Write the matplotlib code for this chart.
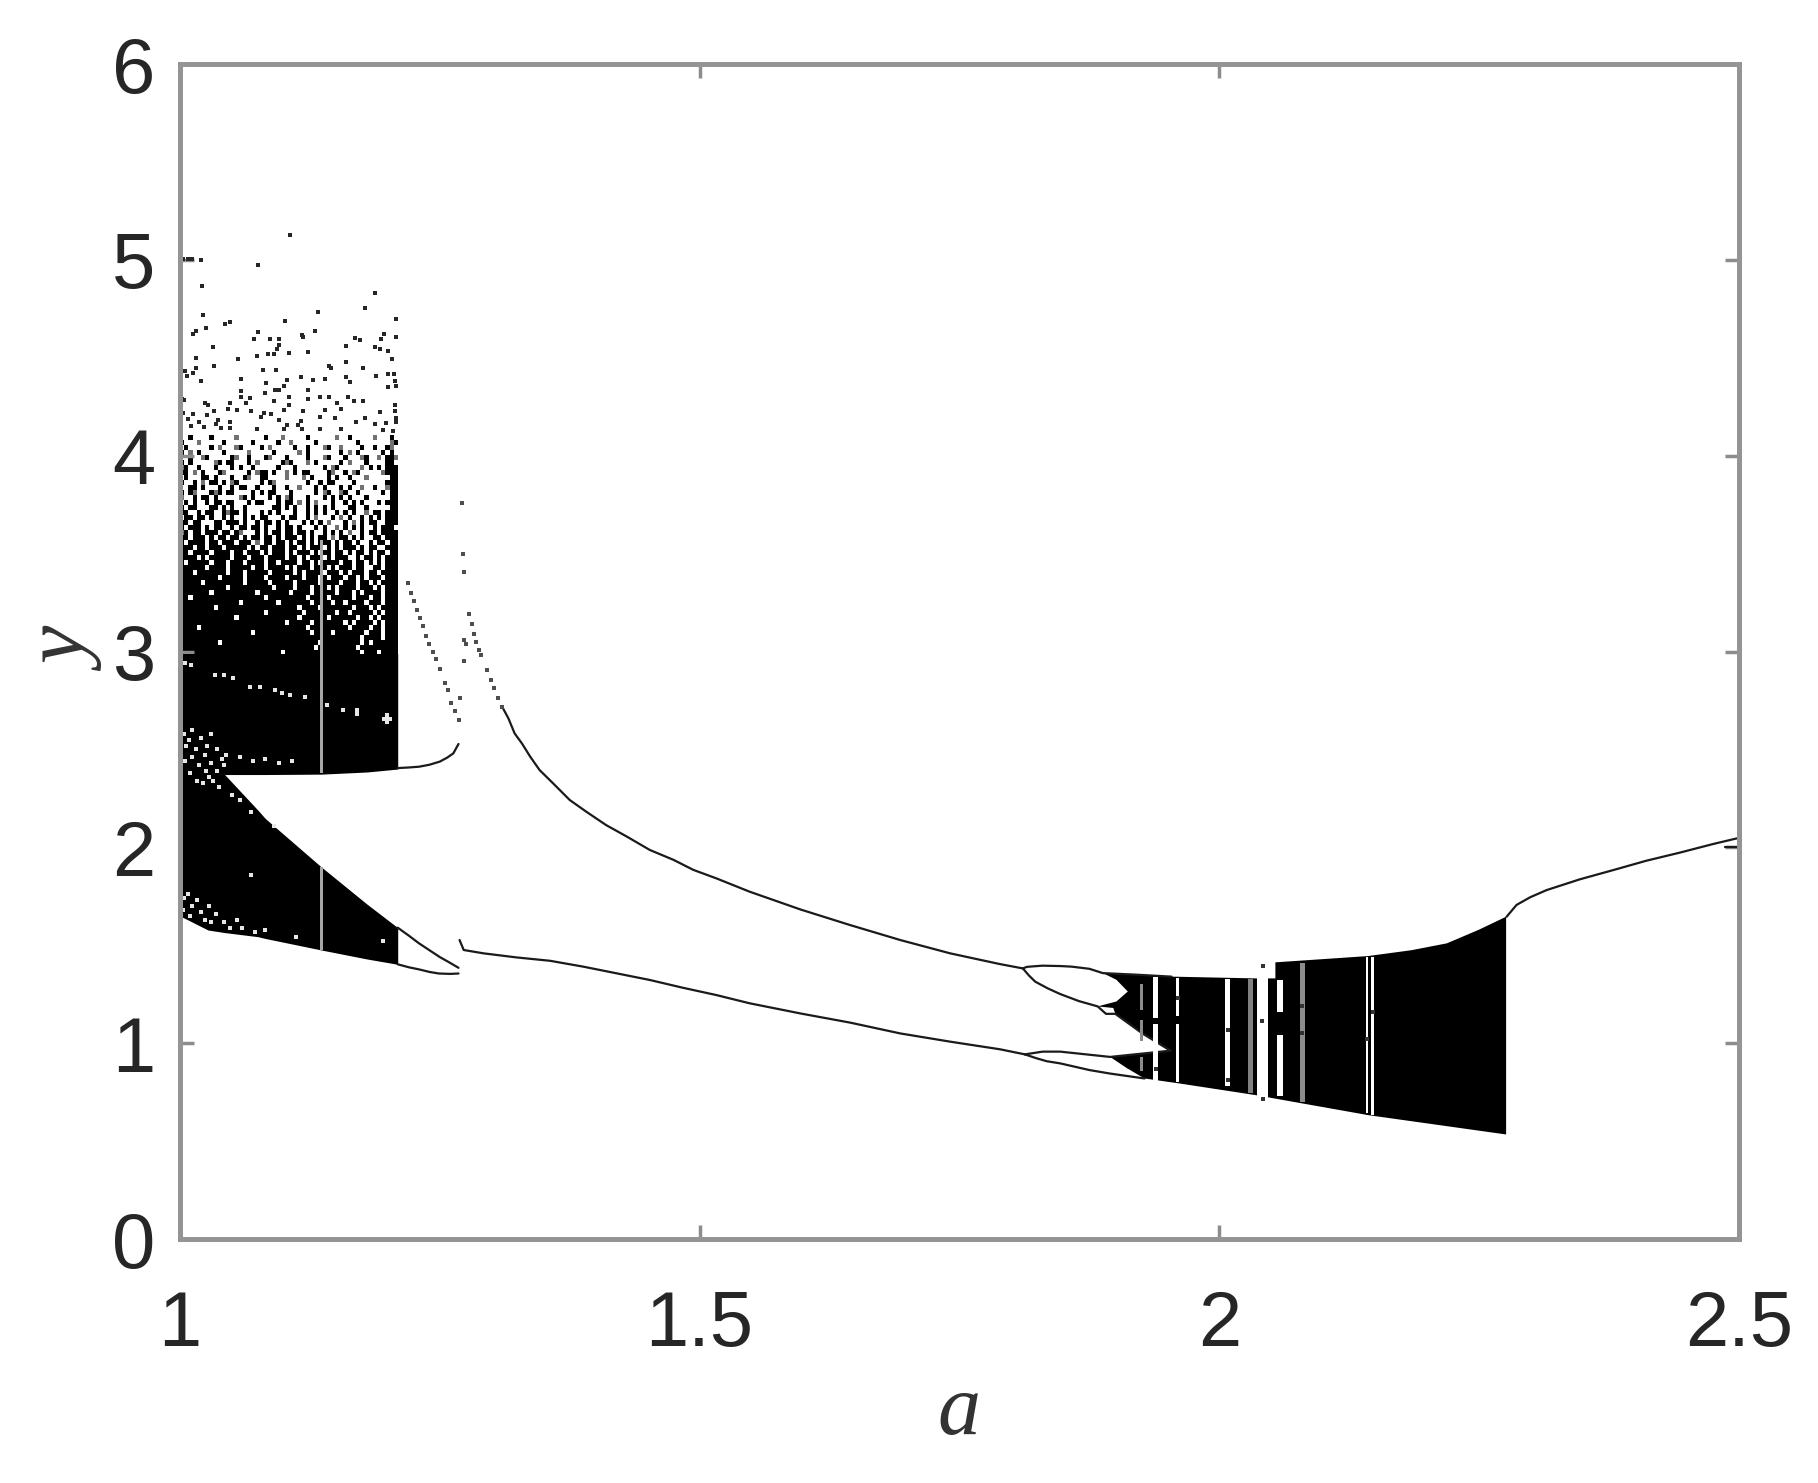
import numpy as np
import matplotlib
matplotlib.use("Agg")
import matplotlib.pyplot as plt

# left chaotic block, speck by speck: one row per 0.0255 of y from 4.10 down,
# '#' black, '+' grey, '.' white
speck_rows = [
    "..#....#.....+......#...+.....#......+..#.....+...#.",
    "#...+.....#......#.....#..+.....#.........#.......+#",
    ".#.....#.+...+#....#.+.....#..#...+#..+....#..#..#+.",
    "#.+.#.....#.....+.....#.....+.#.......#.+.#.....#.#.",
    "..#..+#.....#+..#...#+...#....#...+#...#...+#..+.##+",
    "#.#.....+#.##...#.+.....#+#...+.#.....#.+...#....##.",
    "+#..#...#...#.#..#.....#...#......#.+#.....+.#.#.###",
    "##.+.#...#+.....#.+##.#..+.#.##....#+..#.+#.....+###",
    ".#...##.#...#..#+..##....+...+.#...#.#..#...+.....##",
    "#..#.+.##.#.+#.....#.#+.......#..#.##....#.......###",
    "..##.#...#..#.##..#...#..#..+...#.#...#.#..+..#..+##",
    "#.#+...#+#.##....#.#.##...#.....#.+#..+#..#.....#.##",
    "+..#.##.#.....+#.#...#.#.+#...#...#.#.#.#...#.....##",
    ".#.#..#.##.##...#.##...#.##.+.#.+...#..#.#.#...#.###",
    "#.##...##.#.#..#......##.#.#..#.#.#.#...##..#.....##",
    "##..#.##..#+##.#...#.#.#...#..#.#.#..#.#.#..+.##.###",
    ".##.##.#..#.#..#.#.##...#.##..#.+...#.+.#..#.#.#.###",
    "##.##...##.###.#..#.##.#.#...#.#.#.+...#.+.#.##..###",
    "#.###.#.##..#.##.##.#..#.##.#...#.#..+.#.#.#..#.###.",
    "+#.##.###.##.#+...#.#.##.##.##.#..#.#.#.+..#.##.####",
    "##.###.#.##.##.#.##.##.#.###.#.#.##.+.##.#.#..##.###",
    "#.####.##.###.###.+.##.##.#.##.#.###.#.##.#..#.##.##",
    "###.##.###.#####.#.##.###.##.#.###.#.#.###.#.##..###",
    "##.####.####.##.###.#.###.#.###.#.##.##.#.##.#.##.##",
    "####.#.#####.###.###.####.##.#.###.#.###..#.##.#.###",
    "#.#####.###.###.####.##.####.##.#.####.##.##.#.#.###",
    "######.####.#####.##.####.#.###.###.#.###.##..##.###",
    "###.#######.###.#####.#####.#.####.###.#.###.##.####",
    "#########.#####.####.####.###.###.#.###.##.#.###.###",
    "#####.#########.#####.#####.#####.####.###.##.#.####",
    "###########.##########.####.###.###.#.####.###.#.###",
    "#######.##########.#######.####.#####.###.#.####.###",
    "##.#################.#########.####.#####.###.##.###",
    "##############.########.#######.####.##.####.###.###",
    "########.###################.####.#######.###.#.####",
    "####################.########.#######.##.#####.#.###",
    "#############.##############.######.######.##.#.####",
    "#########################.#####.#######.#.####.#.###",
    "####.#########################.#########.####.##.###",
    "#################.#############.####.#######.###.###",
    "###########################################.####.###",
    "#########.#######################.#########.#.######",
    "################################.#########.#########",
    "########################.##################.###.####",
]

# solid lobes of the left block
upper_lobe_a = [1.0, 1.043, 1.082, 1.136, 1.18, 1.2095]
upper_lobe_low = [2.62, 2.372, 2.372, 2.374, 2.385, 2.40]
upper_lobe_high = [2.99, 2.99, 2.99, 2.99, 2.99, 2.99]
lower_lobe_a = [1.0, 1.027, 1.043, 1.075, 1.082, 1.136, 1.18, 1.2095]
lower_lobe_low = [1.65, 1.578, 1.565, 1.544, 1.535, 1.476, 1.43, 1.403]
lower_lobe_high = [2.62, 2.52, 2.372, 2.19, 2.148, 1.90, 1.71, 1.59]

sparse_points = [
    (1.106, 5.126), (1.003, 5.005), (1.008, 5.005), (1.012, 5.005), (1.02, 5.0), (1.075, 4.973),
    (1.021, 4.866), (1.188, 4.832), (1.178, 4.755), (1.133, 4.735), (1.022, 4.721), (1.101, 4.687),
    (1.048, 4.682), (1.043, 4.672), (1.208, 4.696), (1.015, 4.636), (1.013, 4.621), (1.025, 4.65),
    (1.075, 4.633), (1.13, 4.636), (1.117, 4.616), (1.118, 4.605), (1.071, 4.594), (1.087, 4.594),
    (1.095, 4.594), (1.196, 4.621), (1.193, 4.594), (1.168, 4.599), (1.173, 4.59), (1.208, 4.607),
    (1.16, 4.56), (1.188, 4.556), (1.095, 4.565), (1.093, 4.543), (1.032, 4.553), (1.2, 4.534),
    (1.192, 4.543), (1.105, 4.526), (1.123, 4.529), (1.09, 4.517), (1.085, 4.517), (1.074, 4.51),
    (1.015, 4.5), (1.056, 4.492), (1.204, 4.492), (1.16, 4.48), (1.033, 4.458), (1.143, 4.459),
    (1.145, 4.446), (1.176, 4.446), (1.015, 4.446), (1.08, 4.437), (1.092, 4.437), (1.005, 4.434),
    (1.013, 4.42), (1.007, 4.407), (1.2, 4.417), (1.206, 4.417), (1.116, 4.403), (1.189, 4.407),
    (1.16, 4.403), (1.059, 4.391), (1.103, 4.386), (1.128, 4.386), (1.14, 4.391), (1.02, 4.381),
    (1.164, 4.374), (1.083, 4.372), (1.207, 4.383), (1.1, 4.357), (1.2, 4.352), (1.208, 4.355),
    (1.091, 4.338), (1.095, 4.338), (1.123, 4.335), (1.059, 4.33), (1.082, 4.321), (1.105, 4.301),
    (1.059, 4.301), (1.135, 4.301), (1.143, 4.301), (1.162, 4.301), (1.123, 4.292), (1.067, 4.296),
    (1.167, 4.279), (1.176, 4.279), (1.09, 4.279), (1.024, 4.27), (1.048, 4.27), (1.151, 4.27),
    (1.064, 4.267), (1.002, 4.292), (1.004, 4.284), (1.105, 4.258), (1.207, 4.258), (1.027, 4.258),
    (1.046, 4.241), (1.055, 4.236), (1.14, 4.236), (1.155, 4.241), (1.1, 4.233), (1.033, 4.229),
    (1.068, 4.228), (1.118, 4.228), (1.192, 4.224), (1.207, 4.229), (1.003, 4.219), (1.013, 4.212),
    (1.081, 4.216), (1.088, 4.212), (1.026, 4.207), (1.078, 4.199), (1.135, 4.199), (1.149, 4.195),
    (1.178, 4.195), (1.208, 4.195), (1.008, 4.185), (1.037, 4.182), (1.095, 4.182), (1.116, 4.178),
    (1.018, 4.172), (1.048, 4.17), (1.169, 4.17), (1.198, 4.168), (1.208, 4.17), (1.035, 4.161),
    (1.188, 4.161), (1.103, 4.156), (1.114, 4.156), (1.011, 4.151), (1.023, 4.148), (1.039, 4.144),
    (1.048, 4.144), (1.074, 4.139), (1.1, 4.139), (1.117, 4.139), (1.135, 4.139), (1.155, 4.134),
    (1.195, 4.131), (1.205, 4.127),
]

# white holes showing inside the solid part
hole_points = [
    # faint row along y of about 2.9
    (1.005, 2.94), (1.011, 2.931), (1.034, 2.88), (1.042, 2.88), (1.051, 2.863), (1.067, 2.821),
    (1.077, 2.821), (1.091, 2.804), (1.098, 2.787), (1.106, 2.778), (1.12, 2.766),
    (1.141, 2.726), (1.157, 2.70), (1.17, 2.70), (1.17, 2.68), (1.196, 2.658), (1.199, 2.658),
    (1.202, 2.658), (1.199, 2.675), (1.199, 2.64),
    # fuzz where the two lobes meet at the left edge
    (1.004, 2.58), (1.012, 2.6), (1.02, 2.56), (1.03, 2.58), (1.006, 2.52), (1.015, 2.5), (1.026, 2.52),
    (1.036, 2.5), (1.044, 2.47), (1.058, 2.46), (1.07, 2.44), (1.082, 2.45), (1.095, 2.43), (1.108, 2.44),
    (1.005, 2.44), (1.018, 2.42), (1.03, 2.43), (1.042, 2.42), (1.01, 2.38), (1.025, 2.39), (1.036, 2.39),
    (1.022, 2.33), (1.032, 2.34), (1.038, 2.31), (1.05, 2.27), (1.058, 2.24), (1.068, 2.18), (1.09, 2.11),
    (1.009, 2.55), (1.024, 2.47), (1.04, 2.45), (1.012, 2.46), (1.028, 2.36), (1.016, 2.34),
    # fuzz along the lower edge of the lower lobe
    (1.004, 1.74), (1.012, 1.7), (1.003, 1.68), (1.02, 1.67), (1.028, 1.7), (1.035, 1.66), (1.01, 1.65),
    (1.024, 1.63), (1.042, 1.62), (1.055, 1.63), (1.06, 1.59), (1.072, 1.57), (1.082, 1.58), (1.112, 1.54),
    (1.068, 1.86), (1.195, 1.52), (1.016, 1.73), (1.03, 1.62), (1.048, 1.59), (1.008, 1.76),
]

# dotted orbits and lone points past the block
dots_left = [
    (1.219, 3.35), (1.222, 3.30), (1.225, 3.26), (1.228, 3.21), (1.231, 3.17), (1.234, 3.13), (1.237, 3.08),
    (1.24, 3.04), (1.243, 3.0), (1.246, 2.96), (1.25, 2.909), (1.255, 2.838), (1.258, 2.804), (1.261, 2.735),
    (1.265, 2.698), (1.268, 2.65),
]
dots_right = [
    (1.278, 3.19), (1.281, 3.14), (1.283, 3.09), (1.285, 3.05), (1.288, 3.01), (1.29, 2.98), (1.295, 2.906),
    (1.299, 2.855), (1.302, 2.812), (1.306, 2.765), (1.31, 2.718),
]
dots_lone = [(1.271, 3.76), (1.272, 3.496), (1.273, 3.408), (1.273, 3.059), (1.275, 3.04), (1.273, 2.953), (1.269, 2.761)]

# period curves, as thin lines
orbit_a = [1.31, 1.316, 1.322, 1.329, 1.337, 1.346, 1.359, 1.375, 1.391, 1.41, 1.43, 1.452, 1.475, 1.494,
           1.516, 1.548, 1.597, 1.645, 1.693, 1.741, 1.789, 1.811]
orbit_y = [2.718, 2.659, 2.582, 2.531, 2.463, 2.395, 2.327, 2.242, 2.182, 2.114, 2.055, 1.987, 1.936, 1.885,
           1.842, 1.774, 1.683, 1.603, 1.527, 1.459, 1.404, 1.382]
low_orbit_a = [1.269, 1.273, 1.292, 1.324, 1.356, 1.388, 1.42, 1.452, 1.484, 1.516, 1.548, 1.597, 1.645,
               1.693, 1.741, 1.789, 1.813]
low_orbit_y = [1.527, 1.476, 1.459, 1.438, 1.421, 1.391, 1.357, 1.323, 1.283, 1.246, 1.204, 1.152, 1.105,
               1.05, 1.008, 0.969, 0.943]
loop_up_a = [1.2095, 1.22, 1.23, 1.24, 1.25, 1.257, 1.263, 1.268]
loop_up_y = [2.405, 2.408, 2.412, 2.422, 2.438, 2.458, 2.48, 2.528]
lens_top_a = [1.2095, 1.22, 1.23, 1.24, 1.25, 1.26, 1.268]
lens_top_y = [1.59, 1.55, 1.51, 1.475, 1.44, 1.41, 1.385]
lens_bot_a = [1.2095, 1.22, 1.23, 1.24, 1.249, 1.26, 1.268]
lens_bot_y = [1.403, 1.388, 1.377, 1.364, 1.356, 1.354, 1.356]
exit_a = [2.2765, 2.286, 2.299, 2.315, 2.347, 2.379, 2.411, 2.443, 2.475, 2.498]
exit_y = [1.646, 1.706, 1.745, 1.782, 1.837, 1.884, 1.932, 1.973, 2.017, 2.046]
exit_fork_a = [2.487, 2.5]
exit_fork_y = [2.0, 2.0]

# period doubling before the right block
arc_top_a = [1.811, 1.815, 1.83, 1.847, 1.858, 1.875, 1.888, 1.92, 1.954]
arc_top_y = [1.382, 1.39, 1.396, 1.394, 1.391, 1.38, 1.358, 1.35, 1.34]
arc_low_a = [1.811, 1.817, 1.823, 1.835, 1.847, 1.865, 1.883, 1.891, 1.90, 1.926, 1.953]
arc_low_y = [1.382, 1.345, 1.314, 1.28, 1.251, 1.215, 1.188, 1.15, 1.15, 1.05, 0.962]
arc2_top_a = [1.813, 1.83, 1.847, 1.895, 1.953]
arc2_top_y = [0.943, 0.957, 0.957, 0.93, 0.962]
arc2_low_a = [1.813, 1.823, 1.834, 1.847, 1.875, 1.895, 1.928]
arc2_low_y = [0.943, 0.925, 0.908, 0.897, 0.863, 0.845, 0.82]

# right chaotic block outline
block_a = [1.888, 1.954, 2.035, 2.054, 2.054, 2.143, 2.185, 2.219, 2.25, 2.276, 2.276, 2.143, 2.035, 1.961, 1.928,
           1.911, 1.895, 1.953, 1.926, 1.90, 1.898, 1.883, 1.901, 1.912, 1.901]
block_y = [1.358, 1.34, 1.331, 1.331, 1.413, 1.445, 1.475, 1.51, 1.58, 1.646, 0.534, 0.633, 0.735, 0.795, 0.82,
           0.873, 0.93, 0.962, 1.05, 1.15, 1.18, 1.188, 1.213, 1.264, 1.324]

# periodic windows: centre, width, bottom, top, colour
window_a = [1.136, 1.136, 1.925, 1.925, 1.925, 1.939, 1.939, 1.960, 1.960, 2.008, 2.008, 2.030, 2.0415,
            2.0585, 2.0585, 2.08, 2.142, 2.1475]
window_w = [0.0025, 0.0025, 0.0035, 0.0035, 0.0035, 0.005, 0.005, 0.0025, 0.0025, 0.005, 0.005, 0.004, 0.011,
            0.0065, 0.0065, 0.005, 0.002, 0.0025]
window_low = [2.38, 1.476, 0.86, 1.01, 1.17, 0.80, 1.13, 0.80, 1.14, 0.78, 1.00, 0.745, 0.722,
              0.73, 1.16, 0.70, 0.645, 0.635]
window_high = [3.57, 1.90, 0.93, 1.12, 1.30, 1.10, 1.34, 1.10, 1.335, 1.09, 1.33, 1.33, 1.42,
               1.04, 1.325, 1.41, 1.44, 1.44]
window_c = ["0.65", "0.65", "0.55", "0.55", "0.55", "white", "white", "white", "white", "white", "white",
            "0.5", "white", "white", "white", "0.55", "white", "white"]
window_marks = [(2.042, 1.396), (2.042, 0.713), (2.0415, 1.115), (2.008, 0.81), (2.008, 1.07), (1.939, 0.87),
                (2.142, 1.02), (2.1475, 1.16), (2.08, 1.19), (2.08, 1.05), (1.96, 1.23)]

xticks = [1, 1.5, 2, 2.5]
xticklabels = ["1", "1.5", "2", "2.5"]
yticks = [0, 1, 2, 3, 4, 5, 6]

plt.rcParams["font.family"] = ["Liberation Sans", "DejaVu Sans"]

fig = plt.figure(figsize=(18.18, 14.83), dpi=100)
ax = fig.add_axes([0.099, 0.1645, 0.8575, 0.7923])

shade = {"#": 1.0, "+": 0.55, ".": 0.0}
n_cols = max(len(r) for r in speck_rows)
specks = [[shade[c] for c in r.ljust(n_cols, ".")] for r in speck_rows]
ax.imshow(specks, cmap="gray_r", vmin=0, vmax=1, aspect="auto", interpolation="antialiased",
          extent=[1.0, 1.2095, 2.98, 4.10], zorder=1)

ax.fill_between(upper_lobe_a, upper_lobe_low, upper_lobe_high, color="black", lw=0, zorder=2)
ax.fill_between(lower_lobe_a, lower_lobe_low, lower_lobe_high, color="black", lw=0, zorder=2)
ax.fill(block_a, block_y, color="black", lw=0, zorder=2)

for a, y in [(arc_top_a, arc_top_y), (arc_low_a, arc_low_y), (arc2_top_a, arc2_top_y), (arc2_low_a, arc2_low_y),
             (orbit_a, orbit_y), (low_orbit_a, low_orbit_y), (loop_up_a, loop_up_y), (lens_top_a, lens_top_y),
             (lens_bot_a, lens_bot_y), (exit_a, exit_y), (exit_fork_a, exit_fork_y)]:
    ax.plot(a, y, color="0.1", lw=1.6, solid_capstyle="round", zorder=2)

sparse = np.array(sparse_points)
holes = np.array(hole_points)
ax.scatter(sparse[:, 0], sparse[:, 1], s=7, marker="s", color="0.15", lw=0, zorder=3)
ax.scatter(holes[:, 0], holes[:, 1], s=9, marker="s", color="0.9", lw=0, zorder=3)

for pts in [dots_left, dots_right, dots_lone]:
    p = np.array(pts)
    ax.scatter(p[:, 0], p[:, 1], s=5, marker="s", color="0.3", lw=0, zorder=3)

ax.bar(window_a, np.array(window_high) - np.array(window_low), window_w, bottom=window_low,
       color=window_c, lw=0, zorder=4)
marks = np.array(window_marks)
ax.scatter(marks[:, 0], marks[:, 1], s=10, marker="s", color="0.2", lw=0, zorder=5)

ax.set_xlim(1, 2.5)
ax.set_ylim(0, 6)
ax.set_xticks(xticks)
ax.set_xticklabels(xticklabels)
ax.set_yticks(yticks)
ax.tick_params(direction="in", top=True, right=True, length=10, width=2.5, color="0.55",
               labelsize=56, labelcolor="0.15")
ax.tick_params(axis="y", pad=18)
ax.tick_params(axis="x", pad=36)
for spine in ax.spines.values():
    spine.set_linewidth(3.6)
    spine.set_color("0.58")
    spine.set_zorder(6)

ax.set_xlabel("a", family="Liberation Serif", style="italic", fontsize=62, color="0.2", labelpad=8)
ax.set_ylabel("y", family="Liberation Serif", style="italic", fontsize=62, color="0.2", labelpad=2)

fig.savefig("out.png", dpi=100)
